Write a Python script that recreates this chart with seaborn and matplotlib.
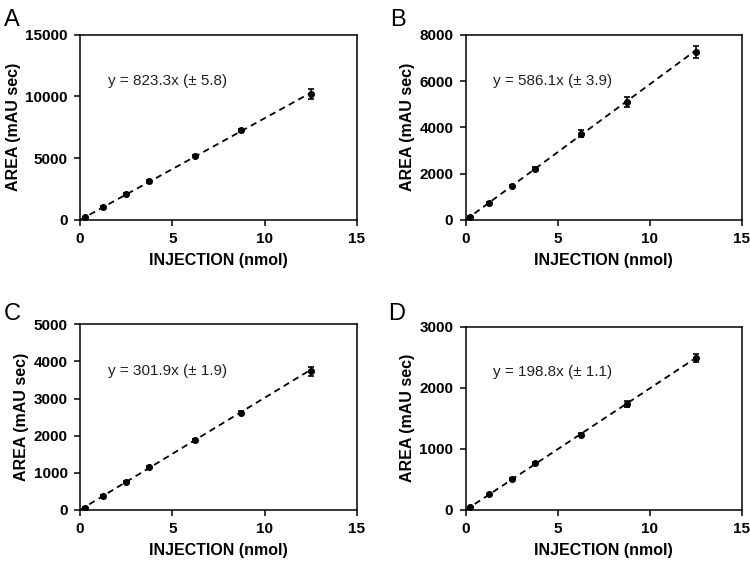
import numpy as np
import pandas as pd
import matplotlib
matplotlib.use("Agg")
import matplotlib.pyplot as plt
import seaborn as sns

injection = [0.25, 1.25, 2.5, 3.75, 6.25, 8.75, 12.5]

area_a = [217, 1084, 2114, 3170, 5200, 7260, 10190]
err_a = [20, 40, 60, 70, 90, 110, 430]
area_b = [144, 750, 1484, 2220, 3732, 5100, 7262]
err_b = [10, 30, 40, 60, 170, 200, 260]
area_c = [63, 387, 757, 1144, 1883, 2622, 3730]
err_c = [5, 15, 25, 30, 40, 50, 110]
area_d = [49, 255, 505, 760, 1232, 1736, 2480]
err_d = [3, 10, 15, 20, 25, 45, 65]

slopes = [823.3, 586.1, 301.9, 198.8]
slope_err = [5.8, 3.9, 1.9, 1.1]
panel_letters = ["A", "B", "C", "D"]
y_max = [15000, 8000, 5000, 3000]
y_step = [5000, 2000, 1000, 1000]

sns.set_style("ticks")
plt.rcParams["font.family"] = ["Liberation Sans", "DejaVu Sans"]
plt.rcParams["text.color"] = "black"
plt.rcParams["axes.labelcolor"] = "black"
plt.rcParams["xtick.color"] = "black"
plt.rcParams["ytick.color"] = "black"

fig = plt.figure(figsize=(7.5, 5.61), dpi=100)

# axes boxes in figure fractions
boxes = [
    [0.1067, 0.608, 0.369, 0.330],
    [0.621, 0.608, 0.368, 0.330],
    [0.1067, 0.091, 0.369, 0.331],
    [0.621, 0.091, 0.368, 0.327],
]
letter_pos = [(0.005, 0.965), (0.52, 0.965), (0.005, 0.44), (0.517, 0.44)]

areas = [area_a, area_b, area_c, area_d]
errs = [err_a, err_b, err_c, err_d]

for i in range(4):
    ax = fig.add_axes(boxes[i])
    df = pd.DataFrame({"x": injection, "y": areas[i], "err": errs[i]})
    fit = pd.DataFrame({"x": [0, 12.5]})
    fit["y"] = fit["x"] * slopes[i]

    sns.lineplot(data=fit, x="x", y="y", ax=ax, color="black",
                 linestyle=(0, (3.5, 2.5)), linewidth=1.3)
    ax.errorbar(df["x"], df["y"], yerr=df["err"], fmt="none",
                ecolor="black", elinewidth=1.2, capsize=2.5, capthick=1.2)
    sns.scatterplot(data=df, x="x", y="y", ax=ax, color="black",
                    s=26, edgecolor="black", linewidth=0, zorder=3)

    ax.set_xlim(0, 15)
    ax.set_ylim(0, y_max[i])
    ax.set_xticks([0, 5, 10, 15])
    ax.set_yticks(np.arange(0, y_max[i] + 1, y_step[i]))
    ax.tick_params(labelsize=11, width=1.1, length=4, color="black", pad=5)
    for lab in ax.get_xticklabels() + ax.get_yticklabels():
        lab.set_fontweight("bold")
    for sp in ax.spines.values():
        sp.set_visible(True)
        sp.set_linewidth(1.1)
        sp.set_color("black")
    ax.set_xlabel("INJECTION (nmol)", fontsize=11.5, fontweight="bold", labelpad=5)
    ax.set_ylabel("AREA (mAU sec)", fontsize=11.5, fontweight="bold", labelpad=3)

    ax.text(0.10, 0.75, f"y = {slopes[i]}x (\u00b1 {slope_err[i]})",
            transform=ax.transAxes, fontsize=11, va="center", color="#222222")
    fig.text(letter_pos[i][0], letter_pos[i][1], panel_letters[i],
             fontsize=17, va="center", ha="left")

fig.savefig("out.png", dpi=100)
